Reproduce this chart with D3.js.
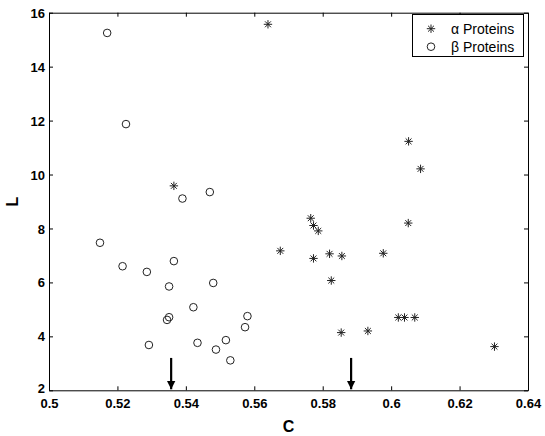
<!DOCTYPE html>
<html><head><meta charset="utf-8">
<script src="https://cdn.jsdelivr.net/npm/d3@7"></script>
<style>body{margin:0;background:#fff}svg{display:block}</style>
</head><body>
<script>
const xTicks = [0.5,0.52,0.54,0.56,0.58,0.6,0.62,0.64];
const xTickLabels = ["0.5","0.52","0.54","0.56","0.58","0.6","0.62","0.64"];
const yTicks = [2,4,6,8,10,12,14,16];
const alphaC = [0.5640,0.5365,0.6051,0.6086,0.5765,0.5773,0.5787,0.5676,0.5773,0.5820,0.5856,0.5977,0.6050,0.5825,0.6021,0.6039,0.6069,0.5854,0.5932,0.6302];
const alphaL = [15.57,9.58,11.23,10.21,8.38,8.11,7.91,7.17,6.89,7.06,6.98,7.08,8.20,6.07,4.70,4.70,4.70,4.14,4.20,3.62];
const betaC = [0.5170,0.5225,0.5390,0.5470,0.5149,0.5215,0.5286,0.5365,0.5351,0.5480,0.5422,0.5351,0.5345,0.5292,0.5434,0.5488,0.5517,0.5530,0.5573,0.5580];
const betaL = [15.25,11.87,9.11,9.35,7.47,6.60,6.39,6.79,5.85,5.98,5.08,4.71,4.61,3.68,3.76,3.51,3.86,3.11,4.34,4.75];
const arrowC = [0.5357,0.5883];
const legendLabels = ["\u03b1 Proteins","\u03b2 Proteins"];

const W=545,H=436;
const L=49,R=528,T=12.7,B=390.3;
const svg=d3.select("body").append("svg").attr("width",W).attr("height",H);
const x=d3.scaleLinear().domain([0.5,0.64]).range([L,R]);
const y=d3.scaleLinear().domain([2,16]).range([B,T]);
const font="'Liberation Sans', Arial, Helvetica, sans-serif";

// axes
const ax=svg.append("g").attr("transform",`translate(0,${B})`)
  .call(d3.axisBottom(x).tickValues(xTicks).tickSizeInner(-4).tickSizeOuter(0).tickPadding(8).tickFormat((d,i)=>xTickLabels[i]));
const ay=svg.append("g").attr("transform",`translate(${L},0)`)
  .call(d3.axisLeft(y).tickValues(yTicks).tickSizeInner(-4).tickSizeOuter(0).tickPadding(4).tickFormat(d3.format("d")));
const axT=svg.append("g").attr("transform",`translate(0,${T})`)
  .call(d3.axisTop(x).tickValues(xTicks).tickSizeInner(-4).tickSizeOuter(0).tickFormat(""));
const ayR=svg.append("g").attr("transform",`translate(${R},0)`)
  .call(d3.axisRight(y).tickValues(yTicks).tickSizeInner(-4).tickSizeOuter(0).tickFormat(""));
[ax,ay,axT,ayR].forEach(g=>{
  g.selectAll("path").attr("stroke","#000").attr("stroke-width",1);
  g.selectAll("line").attr("stroke","#000");
  g.selectAll("text").attr("font-family",font).attr("font-size",13).attr("font-weight","bold").attr("fill","#000");
});
ax.selectAll("text").attr("dy","0.75em");
ay.selectAll("text").attr("dy","0.35em");
ay.selectAll(".tick").filter(d=>d===2).select("text").attr("dy","0.2em");

// axis labels
svg.append("text").attr("x",(L+R)/2).attr("y",432).attr("text-anchor","middle")
  .attr("font-family",font).attr("font-size",16).attr("font-weight","bold").text("C");
svg.append("text").attr("transform",`translate(18,${(T+B)/2}) rotate(-90)`).attr("text-anchor","middle")
  .attr("font-family",font).attr("font-size",16).attr("font-weight","bold").text("L");

// markers
function starPath(s){return `M${-s},0L${s},0M0,${-s}L0,${s}M${-s*0.7},${-s*0.7}L${s*0.7},${s*0.7}M${-s*0.7},${s*0.7}L${s*0.7},${-s*0.7}`;}
const alpha=alphaC.map((c,i)=>({c,l:alphaL[i]}));
const beta=betaC.map((c,i)=>({c,l:betaL[i]}));
svg.append("g").selectAll("path").data(alpha).join("path")
  .attr("transform",d=>`translate(${x(d.c)},${y(d.l)})`)
  .attr("d",starPath(4.2)).attr("stroke","#222").attr("stroke-width",1).attr("fill","none");
svg.append("g").selectAll("circle").data(beta).join("circle")
  .attr("cx",d=>x(d.c)).attr("cy",d=>y(d.l)).attr("r",3.8)
  .attr("stroke","#222").attr("stroke-width",1).attr("fill","none");

// arrows
svg.append("defs").append("marker").attr("id","ah").attr("viewBox","0 0 10 10")
  .attr("refX",10).attr("refY",5).attr("markerWidth",4).attr("markerHeight",4)
  .attr("markerUnits","strokeWidth").attr("orient","auto")
  .append("path").attr("d","M0,0L10,5L0,10Z").attr("fill","#000");
svg.append("g").selectAll("line").data(arrowC).join("line")
  .attr("x1",d=>x(d)).attr("x2",d=>x(d)).attr("y1",y(3.2)).attr("y2",B-1)
  .attr("stroke","#000").attr("stroke-width",2.2).attr("marker-end","url(#ah)");

// legend
const lg=svg.append("g");
lg.append("rect").attr("x",412.5).attr("y",14.5).attr("width",111).attr("height",42)
  .attr("fill","#fff").attr("stroke","#000").attr("stroke-width",1);
lg.append("path").attr("transform","translate(431,28.7)").attr("d",starPath(4.2)).attr("stroke","#222").attr("fill","none");
lg.append("circle").attr("cx",431).attr("cy",46.7).attr("r",3.8).attr("stroke","#222").attr("fill","none");
lg.selectAll("text").data(legendLabels).join("text")
  .attr("x",451).attr("y",(d,i)=>28.7+i*18).attr("dy","0.35em")
  .attr("font-family",font).attr("font-size",14).text(d=>d);
</script>
</body></html>
